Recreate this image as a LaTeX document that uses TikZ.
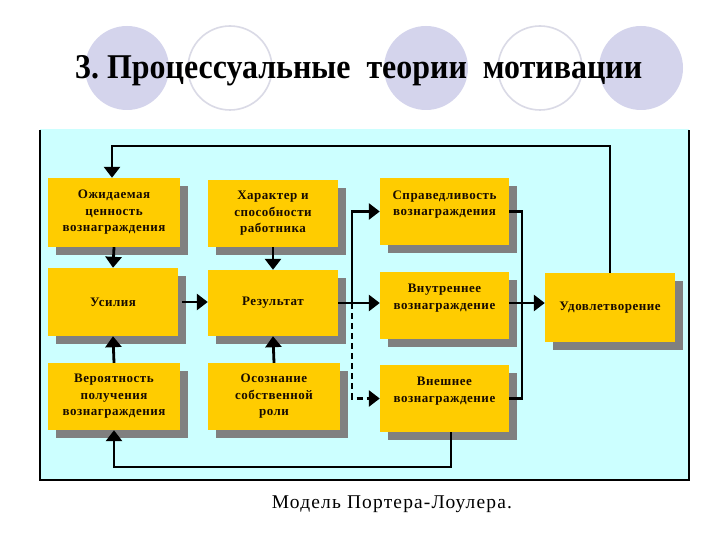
\documentclass[tikz,border=0pt]{standalone}
\usepackage{fontspec}
\setmainfont{Liberation Serif}
\usetikzlibrary{arrows.meta,shadows,calc}
\definecolor{bgcyan}{RGB}{204,255,255}
\definecolor{boxgold}{RGB}{255,204,0}
\definecolor{shadowgray}{RGB}{128,128,128}
\definecolor{circfill}{RGB}{212,212,236}
\definecolor{circline}{RGB}{218,218,230}
\definecolor{boxtext}{RGB}{25,12,0}
\begin{document}
\begin{tikzpicture}[x=1pt,y=-1pt,
  box/.style={fill=boxgold, draw=none, align=center, font=\bfseries\fontsize{13}{16.5}\selectfont\addfontfeatures{LetterSpace=4}, text=boxtext,
    minimum width=#1, inner sep=2pt,
    drop shadow={shadow xshift=8pt, shadow yshift=-8pt, fill=shadowgray, opacity=1}},
  box/.default=132pt,
  conn/.style={line width=2.8pt, draw=black},
  arr/.style={conn, -{Triangle[length=11pt,width=16pt]}},
  fcirc/.style={fill=circfill, draw=none},
  ocirc/.style={fill=white, draw=circline, line width=1.6pt}
]
\useasboundingbox (0,0) rectangle (720,540);
\fill[white] (0,0) rectangle (720,540);
% title circles
\fill[fcirc] (127,68) ellipse [x radius=42, y radius=42];
\draw[ocirc] (230,68) ellipse [x radius=42, y radius=42];
\fill[fcirc] (426,68) ellipse [x radius=42, y radius=42];
\draw[ocirc] (540,68) ellipse [x radius=42, y radius=42];
\fill[fcirc] (641,68) ellipse [x radius=42, y radius=42];
\node[anchor=base west, inner sep=0pt] (title) at (75,79)
  {\resizebox{567pt}{23pt}{\bfseries\fontsize{28}{30}\selectfont 3.~Процессуальные\ \ теории\ \ мотивации}};
% panel
\fill[bgcyan] (40,129) rectangle (689,480);
\draw[line width=1.2pt] (40,130) -- (40,480) -- (689,480) -- (689,130);
% boxes
\node[box, minimum height=69pt] (ozh) at (114,212.5) {Ожидаемая\\ценность\\вознаграждения};
\node[box, minimum height=67pt, minimum width=130pt] (har) at (273,213.5) {Характер и\\способности\\работника};
\node[box, minimum height=68pt, minimum width=130pt] (usil) at (113,302) {Усилия};
\node[box, minimum height=66pt, minimum width=130pt] (rez) at (273,303) {Результат};
\node[box, minimum height=67pt, minimum width=132pt] (ver) at (114,396.5) {Вероятность\\получения\\вознаграждения};
\node[box, minimum height=67pt, minimum width=132pt] (osoz) at (274,396.5) {Осознание\\собственной\\роли};
\node[box, minimum height=67pt, minimum width=129pt, text depth=17pt] (sprav) at (444.5,211.5) {Справедливость\\вознаграждения};
\node[box, minimum height=67pt, minimum width=129pt, text depth=18pt] (vnut) at (444.5,305.5) {Внутреннее\\вознаграждение};
\node[box, minimum height=67pt, minimum width=129pt, text depth=18pt] (vnesh) at (444.5,398.5) {Внешнее\\вознаграждение};
\node[box, minimum height=69pt, minimum width=130pt] (udov) at (610,307.5) {Удовлетворение};
% connectors
\coordinate (fb1) at (112,146);
\draw[arr] (udov.north) |- (fb1) -- (ozh.north -| fb1);
\draw[arr] (ozh.south) -- (usil.north);
\draw[arr] (har.south) -- (rez.north);
\draw[arr] (ver.north) -- (usil.south);
\draw[arr] (osoz.north) -- (rez.south);
\draw[arr, shorten <=4pt] (usil.east) -- (rez.west |- usil.east);
\coordinate (bx) at (352,303);
\draw[conn] (rez.east) -- (bx);
\draw[arr] (bx) |- (sprav.west);
\draw[arr] (bx) -- (bx -| vnut.west);
\draw[arr, dash pattern=on 6pt off 4pt] (bx) |- (vnesh.west);
\coordinate (rx) at (522,303);
\draw[conn] (sprav.east) -| (rx);
\draw[conn] (vnesh.east) -| (rx);
\draw[arr] (vnut.east |- rx) -- (udov.west |- rx);
\coordinate (fb2) at (114,467);
\coordinate (fb2r) at (451,467);
\draw[arr] (vnesh.south -| fb2r) -- (fb2r) -- (fb2) -- (ver.south);
% caption
\node[anchor=base, inner sep=0pt] (cap) at (392,508)
  {\resizebox{240pt}{!}{\fontsize{19}{21}\selectfont\addfontfeatures{LetterSpace=6} Модель Портера-Лоулера.}};
\end{tikzpicture}
\end{document}
